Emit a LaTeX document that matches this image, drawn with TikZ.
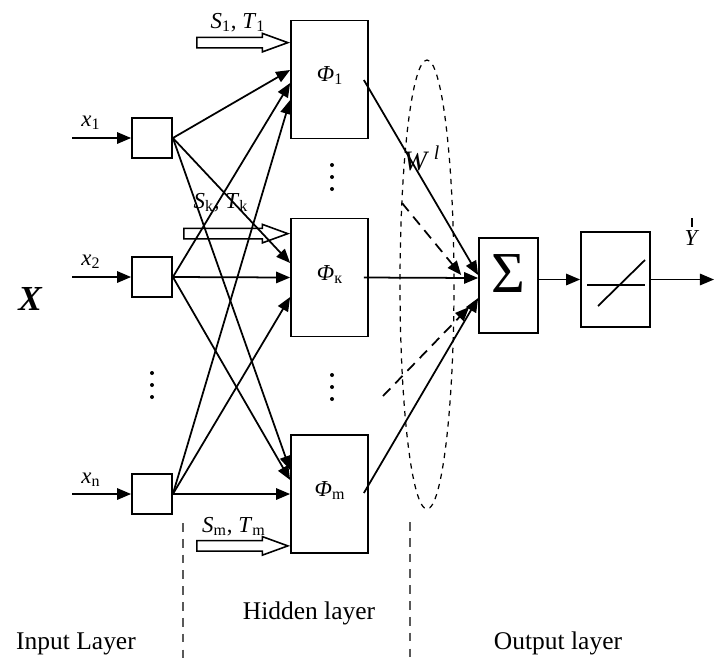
\documentclass[tikz,border=0pt]{standalone}
\usepackage{fontspec}
\setmainfont{Liberation Serif}
\usetikzlibrary{shapes.arrows,arrows.meta,calc}

\begin{document}
\begin{tikzpicture}[x=0.02cm,y=-0.02cm,line width=1pt,>={Triangle[length=8pt,width=6.5pt]},
inbox/.style={draw,minimum size=0.8cm,inner sep=0},
phibox/.style={draw,minimum width=1.54cm,minimum height=2.36cm,inner sep=0},
lbl/.style={font=\fontsize{13}{15}\selectfont,inner sep=0,anchor=base},
layer/.style={font=\fontsize{14.5}{17}\selectfont,inner sep=0,anchor=base},
fatarrow/.style={draw,single arrow,anchor=tip,inner xsep=0,inner ysep=0.09cm,single arrow head extend=0.08cm,single arrow tip angle=40,line width=0.9pt},
wdash/.style={dash pattern=on 6pt off 4pt}]
\useasboundingbox (0,0) rectangle (715,664);

% input layer
\node[inbox] (in1) at (152,138) {};
\node[inbox] (in2) at (152,277) {};
\node[inbox] (inn) at (152,494) {};
\coordinate (x1src) at (72,138);
\coordinate (x2src) at (72,277);
\coordinate (xnsrc) at (72,494);
\draw[->] (x1src) -- (in1);
\draw[->] (x2src) -- (in2);
\draw[->] (xnsrc) -- (inn);
\node[lbl] (x1lbl) at (91,126) {\textit{x}\textsubscript{1}};
\node[lbl] (x2lbl) at (91,265) {\textit{x}\textsubscript{2}};
\node[lbl] (xnlbl) at (91,483) {\textit{x}\textsubscript{n}};
\node[font=\fontsize{20}{22}\selectfont\bfseries\itshape] (xlbl) at (30,299) {X};
\foreach \y in {373,385,397} \fill (152,\y) circle (0.04cm);

% hidden layer
\node[phibox] (phi1) at (329.5,79.5) {};
\node[phibox] (phik) at (329.5,277.5) {};
\node[phibox] (phim) at (329.5,494) {};
\node[lbl] (phi1lbl) at (330,81) {\textit{Φ}\textsubscript{1}};
\node[lbl] (phiklbl) at (330,280) {\textit{Φ}\textsubscript{к}};
\node[lbl] (phimlbl) at (330,496) {\textit{Φ}\textsubscript{m}};
\foreach \y in {165,177,189,375,387,399} \fill (332,\y) circle (0.04cm);
\foreach \s/\t/\d in {in1/phi1/-9.5,in1/phik/-14.5,in1/phim/-24,in2/phi1/3.5,in2/phik/0,in2/phim/-14,inn/phi1/20.5,inn/phik/19.5,inn/phim/0}
  \draw[->] (\s.east) -- ($(\t.west)+(0,\d)$);
\node[fatarrow,minimum height=1.82cm] (s1arrow) at ($(phi1.north west)+(0,23)$) {};
\node[fatarrow,minimum height=2.08cm] (skarrow) at ($(phik.north west)+(0,16)$) {};
\node[fatarrow,minimum height=1.82cm] (smarrow) at ($(phim.south west)+(0,-8)$) {};
\node[lbl] (s1lbl) at (238,28) {\textit{S}\textsubscript{1}, \textit{T}\textsubscript{1}};
\node[lbl] (sklbl) at (221,208) {\textit{S}\textsubscript{k}, \textit{T}\textsubscript{k}};
\node[lbl] (smlbl) at (234,532) {\textit{S}\textsubscript{m}, \textit{T}\textsubscript{m}};

% output layer
\node[draw,minimum width=1.18cm,minimum height=1.9cm] (sum) at (508.5,285.5) {};
\node[font=\fontsize{33}{33}\selectfont,inner sep=0] (sigma) at (508.5,274) {Σ};
\node[draw,minimum width=1.38cm,minimum height=1.9cm] (lin) at (615.5,279.5) {};
\draw (587,285) -- (645,285);
\draw (598,306) -- (645,260);
\draw[->] ($(phi1.east)+(-5,0.5)$) -- ($(sum.west)+(0,-10.5)$);
\draw[->] ($(phik.east)+(-5,0)$) -- ($(sum.west)+(0,-7.5)$);
\draw[->] ($(phim.east)+(-5,-1)$) -- ($(sum.west)+(0,12.5)$);
\coordinate (wup) at (402,203);
\coordinate (wdown) at (383,396);
\draw[->,wdash] (wup) -- ($(sum.west)+(-17,-10.5)$);
\draw[->,wdash] (wdown) -- ($(sum.west)+(-9,21.5)$);
\draw[dashed,line width=0.7pt] (427,284.5) ellipse [x radius=27,y radius=224.5];
\node[font=\fontsize{16}{18}\selectfont] (wlbl) at (422,158) {\textit{W}\,\textsuperscript{\textit{l}}};
\draw[->] (lin.west -| sum.east) -- (lin.west);
\coordinate (yout) at (714,279.5);
\draw[->] (lin.east) -- (yout);
\node[lbl] (ylbl) at (692,245) {\shortstack{\rule{1.3pt}{5pt}\\[-1pt]\textit{Y}}};

% layer borders
\draw[gray!70!black,dash pattern=on 5pt off 4pt,line width=0.6pt] (183,523) -- (183,664);
\draw[gray!70!black,dash pattern=on 5pt off 4pt,line width=0.6pt] (410,522) -- (410,664);
\node[layer] (inlbl) at (76,649) {Input Layer};
\node[layer] (hidlbl) at (309,619) {Hidden layer};
\node[layer] (outlbl) at (558,649) {Output layer};
\end{tikzpicture}
\end{document}
